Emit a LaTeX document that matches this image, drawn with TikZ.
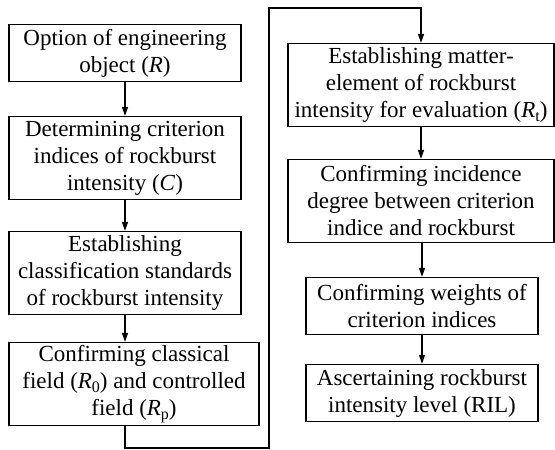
\documentclass[tikz,border=0pt]{standalone}
\usepackage{fontspec}
\setmainfont{Liberation Serif}
\usetikzlibrary{arrows.meta}
\newcommand{\lowidx}[1]{\raisebox{-0.35ex}{\fontsize{16}{16}\selectfont #1}}

\begin{document}
\begin{tikzpicture}[x=1pt, y=-1pt,
	stepbox/.style={draw, line width=1.3pt, align=center, inner xsep=2pt, inner ysep=0pt, font=\fontsize{23}{27}\selectfont},
	flow/.style={line width=1.3pt, -{Triangle[length=9pt,width=6pt]}}]
	\useasboundingbox (0,0) rectangle (555,450);
	% left column
	\node[stepbox, minimum width=232pt, minimum height=57pt] (opt) at (125,53) {Option of engineering\\object (\textit{R})};
	\node[stepbox, minimum width=232pt, minimum height=83pt] (crit) at (125,158) {Determining criterion\\indices of rockburst\\intensity (\textit{C})};
	\node[stepbox, minimum width=232pt, minimum height=83pt] (clas) at (125,273) {Establishing\\classification standards\\of rockburst intensity};
	\node[stepbox, minimum width=250pt, minimum height=83pt] (fld) at (134,384) {Confirming classical\\field (\textit{R}\lowidx{0}) and controlled\\field (\textit{R}\lowidx{p})};
	% right column
	\node[stepbox, minimum width=266pt, minimum height=83pt] (mat) at (421,85) {Establishing matter-\\element of rockburst\\intensity for evaluation (\textit{R}\lowidx{t})};
	\node[stepbox, minimum width=266pt, minimum height=83pt] (inc) at (421,201) {Confirming incidence\\degree between criterion\\indice and rockburst};
	\node[stepbox, minimum width=232pt, minimum height=57pt] (wgt) at (422,306) {Confirming weights of\\criterion indices};
	\node[stepbox, minimum width=232pt, minimum height=57pt] (lvl) at (422,393) {Ascertaining rockburst\\intensity level (RIL)};
	% connectors
	\draw[flow] (opt) -- (crit);
	\draw[flow] (crit) -- (clas);
	\draw[flow] (clas) -- (clas.south |- fld.north);
	\coordinate (low) at (269,448);
	\coordinate (high) at (269,8);
	\draw[flow] (fld.south -| clas.south) |- (low) -- (high) -| (mat.north);
	\draw[flow] (mat) -- (inc);
	\draw[flow] (inc.south -| wgt.north) -- (wgt);
	\draw[flow] (wgt) -- (lvl);
\end{tikzpicture}
\end{document}
